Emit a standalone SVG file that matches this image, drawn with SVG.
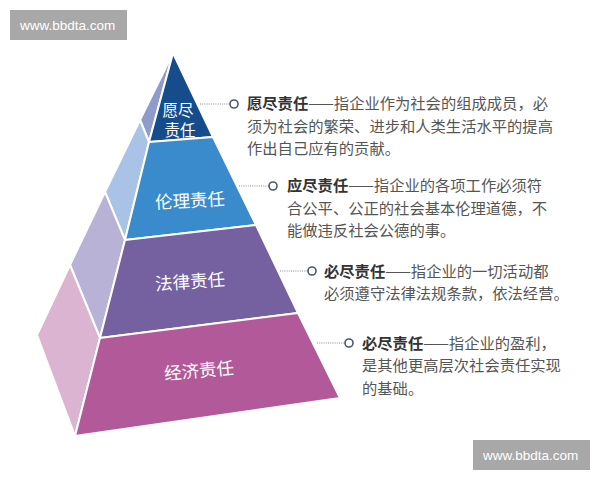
<svg xmlns="http://www.w3.org/2000/svg" width="600" height="480" viewBox="0 0 600 480">
<style>
.face{stroke:#fff;stroke-width:2;stroke-linejoin:round}
.lbl{font-family:"Noto Sans CJK SC","Noto Sans",sans-serif;fill:#fff;text-anchor:middle}
.desc{font-family:"Noto Sans CJK SC","Noto Sans",sans-serif;font-size:15.3px;fill:#555}
.b{font-weight:bold;fill:#333}
.dot{stroke:#8a8a8a;stroke-width:1;stroke-dasharray:1 1.2;fill:none}
.ring{fill:#fff;stroke:#4a5866;stroke-width:1.6}
.wm rect{fill:#a8a8a8}
.wm text{font-family:"Liberation Sans",Arial,sans-serif;font-size:13.5px;fill:#fff}
</style>
<rect width="600" height="480" fill="#fff"/>
<g id="watermark-top" class="wm"><rect x="10" y="10" width="117" height="30"/><text x="20" y="30">www.bbdta.com</text></g>
<g id="watermark-bottom" class="wm"><rect x="473" y="440" width="117" height="30"/><text x="483" y="460">www.bbdta.com</text></g>

<g id="tier-1">
<polygon class="face" fill="#8e9bcb" points="173,53 140,120 149,142"/>
<polygon class="face" fill="#154c8c" points="173,53 149,142 213,137"/>
<text class="lbl" font-size="15.5" x="178" y="116">愿尽</text>
<text class="lbl" font-size="15.5" x="180" y="136">责任</text>
</g>
<g id="tier-2">
<polygon class="face" fill="#a8c3e5" points="140,120 105,192 125,240 149,142"/>
<polygon class="face" fill="#3a8bcb" points="149,142 125,240 256,225 213,137"/>
<text class="lbl" font-size="17.5" x="190" y="207" transform="rotate(-3 190 200)">伦理责任</text>
</g>
<g id="tier-3">
<polygon class="face" fill="#b8b2d6" points="105,192 70,265 100,338 125,240"/>
<polygon class="face" fill="#7560a0" points="125,240 100,338 298,313 256,225"/>
<text class="lbl" font-size="17.5" x="190" y="288" transform="rotate(-4 190 281)">法律责任</text>
</g>
<g id="tier-4">
<polygon class="face" fill="#dab4d0" points="70,265 37,335 75,436 100,338"/>
<polygon class="face" fill="#b25a99" points="100,338 75,436 340,398 298,313"/>
<text class="lbl" font-size="17.5" x="199" y="377" transform="rotate(-5 199 370)">经济责任</text>
</g>

<g id="connectors">
<line class="dot" x1="200" y1="104" x2="230" y2="104"/>
<line class="dot" x1="239" y1="186" x2="269" y2="186"/>
<line class="dot" x1="280" y1="271" x2="308" y2="271"/>
<line class="dot" x1="317" y1="343" x2="345" y2="343"/>
</g>

<g id="note-1">
<circle class="ring" cx="234" cy="104" r="4"/>
<text class="desc" x="247" y="109"><tspan class="b">愿尽责任</tspan>——指企业作为社会的组成成员，必</text>
<text class="desc" x="247" y="132">须为社会的繁荣、进步和人类生活水平的提高</text>
<text class="desc" x="247" y="154">作出自己应有的贡献。</text>
</g>
<g id="note-2">
<circle class="ring" cx="273" cy="186" r="4"/>
<text class="desc" x="287" y="191"><tspan class="b">应尽责任</tspan>——指企业的各项工作必须符</text>
<text class="desc" x="287" y="214">合公平、公正的社会基本伦理道德，不</text>
<text class="desc" x="287" y="236">能做违反社会公德的事。</text>
</g>
<g id="note-3">
<circle class="ring" cx="312" cy="271" r="4"/>
<text class="desc" x="324" y="277"><tspan class="b">必尽责任</tspan>——指企业的一切活动都</text>
<text class="desc" x="324" y="299">必须遵守法律法规条款，依法经营。</text>
</g>
<g id="note-4">
<circle class="ring" cx="349" cy="343" r="4"/>
<text class="desc" x="362" y="349"><tspan class="b">必尽责任</tspan>——指企业的盈利，</text>
<text class="desc" x="362" y="371">是其他更高层次社会责任实现</text>
<text class="desc" x="362" y="394">的基础。</text>
</g>
</svg>
